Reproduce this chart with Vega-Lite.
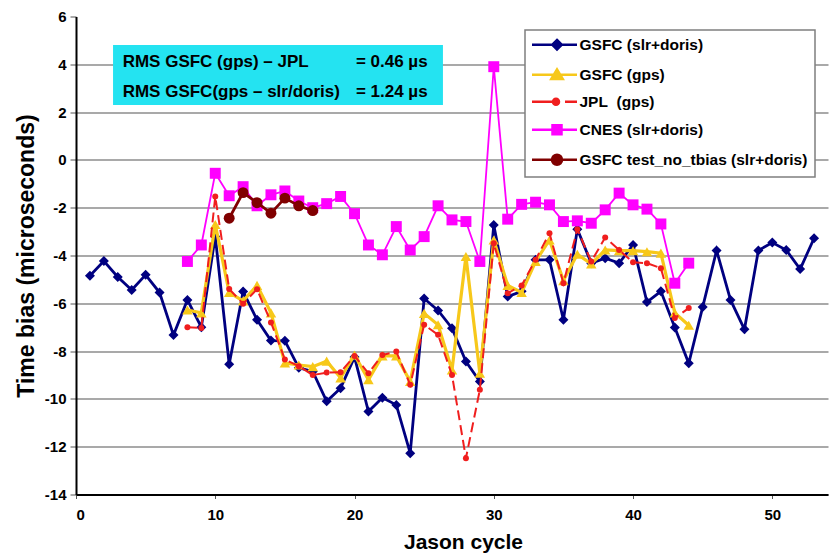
{
  "$schema": "https://vega.github.io/schema/vega-lite/v6.json",
  "width": 752,
  "height": 478,
  "autosize": {"type": "none"},
  "padding": {"left": 76, "top": 16.5, "right": 3, "bottom": 61.5},
  "background": "white",
  "config": {
    "font": "Liberation Sans",
    "view": {"stroke": null}
  },
  "datasets": {
    "bias": [
      {"series": "GSFC (slr+doris)", "cycle": 1, "bias": -4.85},
      {"series": "GSFC (slr+doris)", "cycle": 2, "bias": -4.23},
      {"series": "GSFC (slr+doris)", "cycle": 3, "bias": -4.9},
      {"series": "GSFC (slr+doris)", "cycle": 4, "bias": -5.44},
      {"series": "GSFC (slr+doris)", "cycle": 5, "bias": -4.81},
      {"series": "GSFC (slr+doris)", "cycle": 6, "bias": -5.55},
      {"series": "GSFC (slr+doris)", "cycle": 7, "bias": -7.33},
      {"series": "GSFC (slr+doris)", "cycle": 8, "bias": -5.86},
      {"series": "GSFC (slr+doris)", "cycle": 9, "bias": -7.0},
      {"series": "GSFC (slr+doris)", "cycle": 10, "bias": -3.2},
      {"series": "GSFC (slr+doris)", "cycle": 11, "bias": -8.55},
      {"series": "GSFC (slr+doris)", "cycle": 12, "bias": -5.51},
      {"series": "GSFC (slr+doris)", "cycle": 13, "bias": -6.69},
      {"series": "GSFC (slr+doris)", "cycle": 14, "bias": -7.56},
      {"series": "GSFC (slr+doris)", "cycle": 15, "bias": -7.57},
      {"series": "GSFC (slr+doris)", "cycle": 16, "bias": -8.7},
      {"series": "GSFC (slr+doris)", "cycle": 17, "bias": -8.85},
      {"series": "GSFC (slr+doris)", "cycle": 18, "bias": -10.1},
      {"series": "GSFC (slr+doris)", "cycle": 19, "bias": -9.55},
      {"series": "GSFC (slr+doris)", "cycle": 20, "bias": -8.25},
      {"series": "GSFC (slr+doris)", "cycle": 21, "bias": -10.53},
      {"series": "GSFC (slr+doris)", "cycle": 22, "bias": -9.95},
      {"series": "GSFC (slr+doris)", "cycle": 23, "bias": -10.25},
      {"series": "GSFC (slr+doris)", "cycle": 24, "bias": -12.27},
      {"series": "GSFC (slr+doris)", "cycle": 25, "bias": -5.8},
      {"series": "GSFC (slr+doris)", "cycle": 26, "bias": -6.3},
      {"series": "GSFC (slr+doris)", "cycle": 27, "bias": -7.04},
      {"series": "GSFC (slr+doris)", "cycle": 28, "bias": -8.44},
      {"series": "GSFC (slr+doris)", "cycle": 29, "bias": -9.27},
      {"series": "GSFC (slr+doris)", "cycle": 30, "bias": -2.72},
      {"series": "GSFC (slr+doris)", "cycle": 31, "bias": -5.72},
      {"series": "GSFC (slr+doris)", "cycle": 32, "bias": -5.5},
      {"series": "GSFC (slr+doris)", "cycle": 33, "bias": -4.18},
      {"series": "GSFC (slr+doris)", "cycle": 34, "bias": -4.18},
      {"series": "GSFC (slr+doris)", "cycle": 35, "bias": -6.69},
      {"series": "GSFC (slr+doris)", "cycle": 36, "bias": -2.9},
      {"series": "GSFC (slr+doris)", "cycle": 37, "bias": -4.32},
      {"series": "GSFC (slr+doris)", "cycle": 38, "bias": -4.11},
      {"series": "GSFC (slr+doris)", "cycle": 39, "bias": -4.32},
      {"series": "GSFC (slr+doris)", "cycle": 40, "bias": -3.56},
      {"series": "GSFC (slr+doris)", "cycle": 41, "bias": -5.95},
      {"series": "GSFC (slr+doris)", "cycle": 42, "bias": -5.5},
      {"series": "GSFC (slr+doris)", "cycle": 43, "bias": -7.01},
      {"series": "GSFC (slr+doris)", "cycle": 44, "bias": -8.51},
      {"series": "GSFC (slr+doris)", "cycle": 45, "bias": -6.16},
      {"series": "GSFC (slr+doris)", "cycle": 46, "bias": -3.79},
      {"series": "GSFC (slr+doris)", "cycle": 47, "bias": -5.86},
      {"series": "GSFC (slr+doris)", "cycle": 48, "bias": -7.09},
      {"series": "GSFC (slr+doris)", "cycle": 49, "bias": -3.79},
      {"series": "GSFC (slr+doris)", "cycle": 50, "bias": -3.46},
      {"series": "GSFC (slr+doris)", "cycle": 51, "bias": -3.77},
      {"series": "GSFC (slr+doris)", "cycle": 52, "bias": -4.57},
      {"series": "GSFC (slr+doris)", "cycle": 53, "bias": -3.28},

      {"series": "GSFC (gps)", "cycle": 8, "bias": -6.28},
      {"series": "GSFC (gps)", "cycle": 9, "bias": -6.4},
      {"series": "GSFC (gps)", "cycle": 10, "bias": -2.7},
      {"series": "GSFC (gps)", "cycle": 11, "bias": -5.55},
      {"series": "GSFC (gps)", "cycle": 12, "bias": -5.9},
      {"series": "GSFC (gps)", "cycle": 13, "bias": -5.25},
      {"series": "GSFC (gps)", "cycle": 14, "bias": -6.4},
      {"series": "GSFC (gps)", "cycle": 15, "bias": -8.5},
      {"series": "GSFC (gps)", "cycle": 16, "bias": -8.58},
      {"series": "GSFC (gps)", "cycle": 17, "bias": -8.65},
      {"series": "GSFC (gps)", "cycle": 18, "bias": -8.42},
      {"series": "GSFC (gps)", "cycle": 19, "bias": -9.12},
      {"series": "GSFC (gps)", "cycle": 20, "bias": -8.16},
      {"series": "GSFC (gps)", "cycle": 21, "bias": -9.2},
      {"series": "GSFC (gps)", "cycle": 22, "bias": -8.2},
      {"series": "GSFC (gps)", "cycle": 23, "bias": -8.2},
      {"series": "GSFC (gps)", "cycle": 24, "bias": -9.27},
      {"series": "GSFC (gps)", "cycle": 25, "bias": -6.42},
      {"series": "GSFC (gps)", "cycle": 26, "bias": -6.9},
      {"series": "GSFC (gps)", "cycle": 27, "bias": -8.79},
      {"series": "GSFC (gps)", "cycle": 28, "bias": -4.04},
      {"series": "GSFC (gps)", "cycle": 29, "bias": -8.93},
      {"series": "GSFC (gps)", "cycle": 30, "bias": -3.35},
      {"series": "GSFC (gps)", "cycle": 31, "bias": -5.25},
      {"series": "GSFC (gps)", "cycle": 32, "bias": -5.55},
      {"series": "GSFC (gps)", "cycle": 33, "bias": -4.25},
      {"series": "GSFC (gps)", "cycle": 34, "bias": -3.35},
      {"series": "GSFC (gps)", "cycle": 35, "bias": -5.05},
      {"series": "GSFC (gps)", "cycle": 36, "bias": -3.95},
      {"series": "GSFC (gps)", "cycle": 37, "bias": -4.35},
      {"series": "GSFC (gps)", "cycle": 38, "bias": -3.77},
      {"series": "GSFC (gps)", "cycle": 39, "bias": -3.8},
      {"series": "GSFC (gps)", "cycle": 40, "bias": -3.8},
      {"series": "GSFC (gps)", "cycle": 41, "bias": -3.84},
      {"series": "GSFC (gps)", "cycle": 42, "bias": -3.9},
      {"series": "GSFC (gps)", "cycle": 43, "bias": -6.4},
      {"series": "GSFC (gps)", "cycle": 44, "bias": -6.92},

      {"series": "JPL\u00a0 (gps)", "cycle": 8, "bias": -7.0},
      {"series": "JPL\u00a0 (gps)", "cycle": 9, "bias": -7.03},
      {"series": "JPL\u00a0 (gps)", "cycle": 10, "bias": -1.53},
      {"series": "JPL\u00a0 (gps)", "cycle": 11, "bias": -5.4},
      {"series": "JPL\u00a0 (gps)", "cycle": 12, "bias": -6.02},
      {"series": "JPL\u00a0 (gps)", "cycle": 13, "bias": -5.41},
      {"series": "JPL\u00a0 (gps)", "cycle": 14, "bias": -6.8},
      {"series": "JPL\u00a0 (gps)", "cycle": 15, "bias": -8.35},
      {"series": "JPL\u00a0 (gps)", "cycle": 16, "bias": -8.63},
      {"series": "JPL\u00a0 (gps)", "cycle": 17, "bias": -9.0},
      {"series": "JPL\u00a0 (gps)", "cycle": 18, "bias": -8.9},
      {"series": "JPL\u00a0 (gps)", "cycle": 19, "bias": -8.88},
      {"series": "JPL\u00a0 (gps)", "cycle": 20, "bias": -8.2},
      {"series": "JPL\u00a0 (gps)", "cycle": 21, "bias": -8.93},
      {"series": "JPL\u00a0 (gps)", "cycle": 22, "bias": -8.16},
      {"series": "JPL\u00a0 (gps)", "cycle": 23, "bias": -8.02},
      {"series": "JPL\u00a0 (gps)", "cycle": 24, "bias": -9.41},
      {"series": "JPL\u00a0 (gps)", "cycle": 25, "bias": -6.9},
      {"series": "JPL\u00a0 (gps)", "cycle": 26, "bias": -7.32},
      {"series": "JPL\u00a0 (gps)", "cycle": 27, "bias": -9.0},
      {"series": "JPL\u00a0 (gps)", "cycle": 28, "bias": -12.48},
      {"series": "JPL\u00a0 (gps)", "cycle": 29, "bias": -9.62},
      {"series": "JPL\u00a0 (gps)", "cycle": 30, "bias": -3.49},
      {"series": "JPL\u00a0 (gps)", "cycle": 31, "bias": -5.58},
      {"series": "JPL\u00a0 (gps)", "cycle": 32, "bias": -5.25},
      {"series": "JPL\u00a0 (gps)", "cycle": 33, "bias": -4.18},
      {"series": "JPL\u00a0 (gps)", "cycle": 34, "bias": -3.07},
      {"series": "JPL\u00a0 (gps)", "cycle": 35, "bias": -5.16},
      {"series": "JPL\u00a0 (gps)", "cycle": 36, "bias": -2.9},
      {"series": "JPL\u00a0 (gps)", "cycle": 37, "bias": -4.25},
      {"series": "JPL\u00a0 (gps)", "cycle": 38, "bias": -3.25},
      {"series": "JPL\u00a0 (gps)", "cycle": 39, "bias": -3.77},
      {"series": "JPL\u00a0 (gps)", "cycle": 40, "bias": -4.28},
      {"series": "JPL\u00a0 (gps)", "cycle": 41, "bias": -4.32},
      {"series": "JPL\u00a0 (gps)", "cycle": 42, "bias": -4.53},
      {"series": "JPL\u00a0 (gps)", "cycle": 43, "bias": -6.62},
      {"series": "JPL\u00a0 (gps)", "cycle": 44, "bias": -6.2},

      {"series": "CNES (slr+doris)", "cycle": 8, "bias": -4.25},
      {"series": "CNES (slr+doris)", "cycle": 9, "bias": -3.56},
      {"series": "CNES (slr+doris)", "cycle": 10, "bias": -0.56},
      {"series": "CNES (slr+doris)", "cycle": 11, "bias": -1.5},
      {"series": "CNES (slr+doris)", "cycle": 12, "bias": -1.12},
      {"series": "CNES (slr+doris)", "cycle": 13, "bias": -1.92},
      {"series": "CNES (slr+doris)", "cycle": 14, "bias": -1.46},
      {"series": "CNES (slr+doris)", "cycle": 15, "bias": -1.3},
      {"series": "CNES (slr+doris)", "cycle": 16, "bias": -1.72},
      {"series": "CNES (slr+doris)", "cycle": 17, "bias": -2.0},
      {"series": "CNES (slr+doris)", "cycle": 18, "bias": -1.83},
      {"series": "CNES (slr+doris)", "cycle": 19, "bias": -1.53},
      {"series": "CNES (slr+doris)", "cycle": 20, "bias": -2.25},
      {"series": "CNES (slr+doris)", "cycle": 21, "bias": -3.56},
      {"series": "CNES (slr+doris)", "cycle": 22, "bias": -3.97},
      {"series": "CNES (slr+doris)", "cycle": 23, "bias": -2.79},
      {"series": "CNES (slr+doris)", "cycle": 24, "bias": -3.77},
      {"series": "CNES (slr+doris)", "cycle": 25, "bias": -3.21},
      {"series": "CNES (slr+doris)", "cycle": 26, "bias": -1.92},
      {"series": "CNES (slr+doris)", "cycle": 27, "bias": -2.51},
      {"series": "CNES (slr+doris)", "cycle": 28, "bias": -2.58},
      {"series": "CNES (slr+doris)", "cycle": 29, "bias": -4.25},
      {"series": "CNES (slr+doris)", "cycle": 30, "bias": 3.9},
      {"series": "CNES (slr+doris)", "cycle": 31, "bias": -2.48},
      {"series": "CNES (slr+doris)", "cycle": 32, "bias": -1.86},
      {"series": "CNES (slr+doris)", "cycle": 33, "bias": -1.77},
      {"series": "CNES (slr+doris)", "cycle": 34, "bias": -1.88},
      {"series": "CNES (slr+doris)", "cycle": 35, "bias": -2.58},
      {"series": "CNES (slr+doris)", "cycle": 36, "bias": -2.55},
      {"series": "CNES (slr+doris)", "cycle": 37, "bias": -2.65},
      {"series": "CNES (slr+doris)", "cycle": 38, "bias": -2.09},
      {"series": "CNES (slr+doris)", "cycle": 39, "bias": -1.39},
      {"series": "CNES (slr+doris)", "cycle": 40, "bias": -1.88},
      {"series": "CNES (slr+doris)", "cycle": 41, "bias": -2.06},
      {"series": "CNES (slr+doris)", "cycle": 42, "bias": -2.68},
      {"series": "CNES (slr+doris)", "cycle": 43, "bias": -5.16},
      {"series": "CNES (slr+doris)", "cycle": 44, "bias": -4.32},

      {"series": "GSFC test_no_tbias (slr+doris)", "cycle": 11, "bias": -2.44},
      {"series": "GSFC test_no_tbias (slr+doris)", "cycle": 12, "bias": -1.37},
      {"series": "GSFC test_no_tbias (slr+doris)", "cycle": 13, "bias": -1.79},
      {"series": "GSFC test_no_tbias (slr+doris)", "cycle": 14, "bias": -2.23},
      {"series": "GSFC test_no_tbias (slr+doris)", "cycle": 15, "bias": -1.6},
      {"series": "GSFC test_no_tbias (slr+doris)", "cycle": 16, "bias": -1.92},
      {"series": "GSFC test_no_tbias (slr+doris)", "cycle": 17, "bias": -2.12}
    ],
    "box": [
      {"cycle": 2.66, "cycle2": 26.35, "bias": 4.81, "bias2": 2.3}
    ],
    "notes": [
      {"cycle": 3.35, "bias": 4.1, "label": "RMS GSFC (gps) – JPL"},
      {"cycle": 20.1, "bias": 4.1, "label": "= 0.46 µs"},
      {"cycle": 3.35, "bias": 2.86, "label": "RMS GSFC(gps – slr/doris)"},
      {"cycle": 20.1, "bias": 2.86, "label": "= 1.24 µs"}
    ]
  },
  "data": {"name": "bias"},
  "encoding": {
    "x": {
      "field": "cycle",
      "type": "quantitative",
      "title": "Jason cycle",
      "scale": {"domain": [0, 54], "nice": false, "zero": false},
      "axis": {
        "values": [0, 10, 20, 30, 40, 50],
        "grid": false,
        "domainColor": "black",
        "domainWidth": 2,
        "tickColor": "#555555",
        "tickSize": 4,
        "tickWidth": 1,
        "labelPadding": 9,
        "labelFont": "Liberation Sans",
        "labelFontSize": 15,
        "labelFontWeight": "bold",
        "labelColor": "black",
        "titleFont": "Liberation Sans",
        "titleFontSize": 21,
        "titleFontWeight": "bold",
        "titleColor": "black",
        "titlePadding": 9,
        "titleX": 387
      }
    },
    "y": {
      "field": "bias",
      "type": "quantitative",
      "title": "Time bias (microseconds)",
      "scale": {"domain": [-14, 6], "nice": false, "zero": false},
      "axis": {
        "values": [-14, -12, -10, -8, -6, -4, -2, 0, 2, 4, 6],
        "labelExpr": "'' + datum.value",
        "grid": true,
        "gridColor": "#8c8c8c",
        "gridWidth": 1.5,
        "gridOpacity": {"condition": {"test": "datum.value == 6", "value": 0}, "value": 1},
        "domainColor": "black",
        "domainWidth": 2,
        "tickColor": "#555555",
        "tickSize": 6,
        "tickWidth": 1,
        "labelPadding": 4,
        "labelFont": "Liberation Sans",
        "labelFontSize": 15,
        "labelFontWeight": "bold",
        "labelColor": "black",
        "titleFont": "Liberation Sans",
        "titleFontSize": 23,
        "titleFontWeight": "bold",
        "titleColor": "black",
        "titlePadding": 6
      }
    }
  },
  "layer": [
    {
      "data": {"name": "box"},
      "mark": {"type": "rect", "color": "#24e3f1"},
      "encoding": {
        "x2": {"field": "cycle2"},
        "y2": {"field": "bias2"}
      }
    },
    {
      "data": {"name": "notes"},
      "mark": {
        "type": "text",
        "align": "left",
        "baseline": "middle",
        "font": "Liberation Sans",
        "fontSize": 17,
        "fontWeight": "bold",
        "color": "black"
      },
      "encoding": {"text": {"field": "label"}}
    },
    {
      "encoding": {
        "color": {
          "field": "series",
          "type": "nominal",
          "scale": {
            "domain": ["GSFC (slr+doris)", "GSFC (gps)", "JPL\u00a0 (gps)", "CNES (slr+doris)", "GSFC test_no_tbias (slr+doris)"],
            "range": ["#000080", "#f7c81a", "#f01e1e", "#ff00ff", "#800000"]
          },
          "legend": {
            "title": null,
            "orient": "none",
            "legendX": 449,
            "legendY": 13.5,
            "fillColor": "white",
            "strokeColor": "#7f7f7f",
            "padding": 7,
            "symbolSize": 100,
            "symbolStrokeWidth": 2.5,
            "labelOffset": 32,
            "rowPadding": 9,
            "labelFont": "Liberation Sans",
            "labelFontSize": 15.5,
            "labelFontWeight": "bold",
            "labelColor": "black",
            "labelLimit": 400,
            "encode": {
              "legend": {"update": {"strokeWidth": {"value": 1.5}}},
              "symbols": {
                "update": {
                  "shape": {"signal": "['M-1.55,0H7.45M3.45,-0.95L4.4,0L3.45,0.95L2.5,0Z', 'M-1.55,0H7.45M3.45,-1.05L4.6,0.85L2.3,0.85Z', 'M-1.55,0H4.05M5.05,0H7.45M2.65,0A0.6,0.6,0,1,0,3.85,0A0.6,0.6,0,1,0,2.65,0Z', 'M-1.55,0H7.45M2.55,-0.9H4.35V0.9H2.55Z', 'M-1.55,0H7.45M2.45,0A1,1,0,1,0,4.45,0A1,1,0,1,0,2.45,0Z'][datum.index]"},
                  "fill": {"scale": "color", "field": "value"},
                  "stroke": {"scale": "color", "field": "value"},
                  "opacity": {"value": 1},
                  "fillOpacity": {"value": 1},
                  "strokeOpacity": {"value": 1}
                }
              }
            }
          }
        }
      },
      "layer": [
        {
          "transform": [{"filter": {"field": "series", "equal": "GSFC (slr+doris)"}}],
          "mark": {"type": "line", "strokeWidth": 2.8, "point": {"shape": "diamond", "size": 100, "filled": true}}
        },
        {
          "transform": [{"filter": {"field": "series", "equal": "GSFC (gps)"}}],
          "mark": {"type": "line", "strokeWidth": 3.2, "point": {"shape": "triangle-up", "size": 110, "filled": true}}
        },
        {
          "transform": [{"filter": {"field": "series", "equal": "JPL\u00a0 (gps)"}}],
          "mark": {"type": "line", "strokeWidth": 2, "strokeDash": [10, 5], "point": {"shape": "circle", "size": 36, "filled": true}}
        },
        {
          "transform": [{"filter": {"field": "series", "equal": "CNES (slr+doris)"}}],
          "mark": {"type": "line", "strokeWidth": 1.8, "point": {"shape": "square", "size": 120, "filled": true}}
        },
        {
          "transform": [{"filter": {"field": "series", "equal": "GSFC test_no_tbias (slr+doris)"}}],
          "mark": {"type": "line", "strokeWidth": 2.8, "point": {"shape": "circle", "size": 120, "filled": true}}
        }
      ]
    }
  ]
}
